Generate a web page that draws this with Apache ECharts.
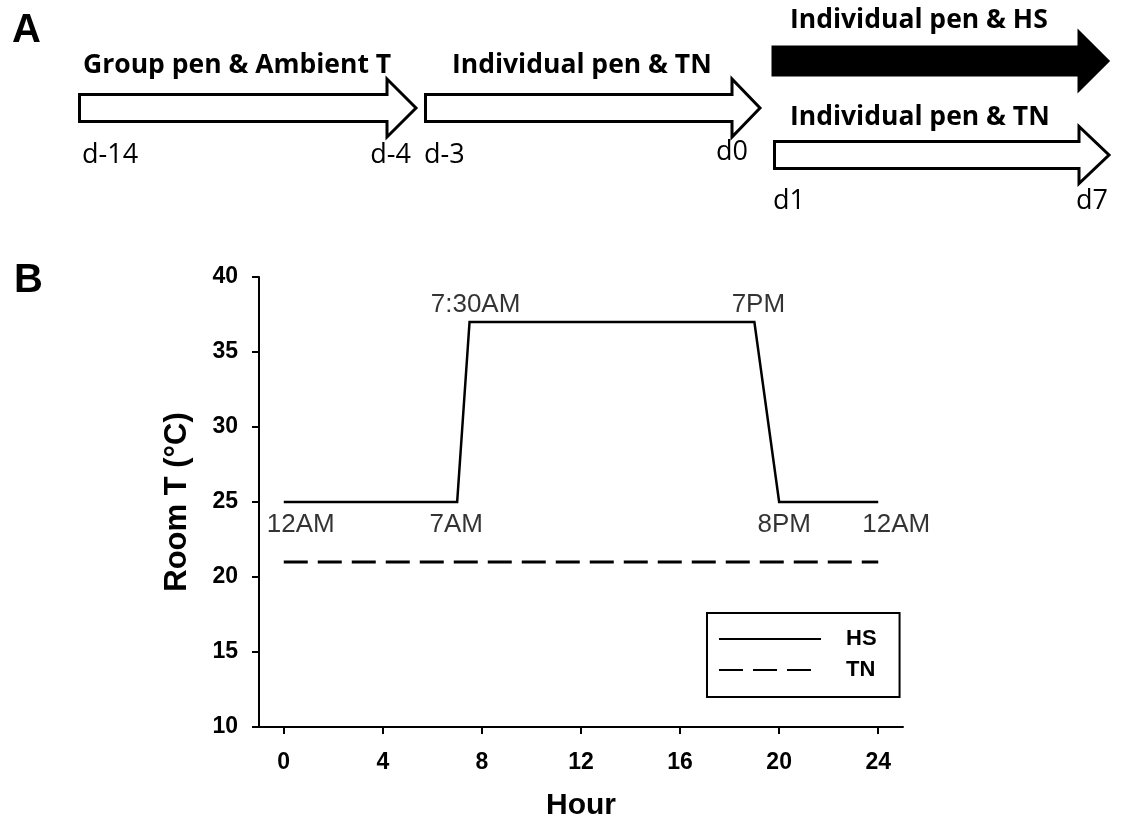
<!DOCTYPE html>
<html>
<head>
<meta charset="utf-8">
<script src="https://cdn.jsdelivr.net/npm/echarts@6/dist/echarts.min.js"></script>
<style>
html,body{margin:0;padding:0;background:#fff;}
#chart{width:1122px;height:829px;}
</style>
</head>
<body>
<div id="chart"></div>
<script>
// ---- Data ----
const hsHours = [0, 7, 7.5, 19, 20, 24];
const hsTemps = [25, 25, 37, 37, 25, 25];
const hsTimeLabels = ['12AM', '7AM', '7:30AM', '7PM', '8PM', '12AM'];
const tnHours = [0, 24];
const tnTemps = [21, 21];
const xTicks = [0, 4, 8, 12, 16, 20, 24];
const yTicks = [10, 15, 20, 25, 30, 35, 40];
const seriesNames = ['HS', 'TN'];
const stageLabels = ['Group pen & Ambient T', 'Individual pen & TN', 'Individual pen & HS', 'Individual pen & TN'];
const dayLabels = ['d-14', 'd-4', 'd-3', 'd0', 'd1', 'd7'];
const panelLabels = ['A', 'B'];
const xName = 'Hour';
const yName = 'Room T (°C)';

// ---- Styling / layout (not data) ----
const ARIAL = 'Arial, "Liberation Sans", sans-serif';
const CAL = '"Open Sans", Lato, sans-serif';
const labelPos = ['bottom', 'bottom', 'top', 'top', 'bottom', 'bottom'];
const labelOff = [[17, 0], [-1, 0], [6, 0], [4, 0], [5, 0], [18, 0]];
const tickRich = {t: {fontFamily: ARIAL, fontWeight: 'bold', fontSize: 23, color: '#000'}};

function arrowPoints(x0, base, tip, yc, bh, hh) {
  return [[x0, yc - bh], [base, yc - bh], [base, yc - hh], [tip, yc], [base, yc + hh], [base, yc + bh], [x0, yc + bh]];
}
const arrowGeom = [
  {x0: 79.5, base: 387, tip: 416, yc: 108, bh: 13.5, hh: 29, fill: '#fff'},
  {x0: 425.5, base: 732, tip: 760, yc: 108, bh: 13.5, hh: 29, fill: '#fff'},
  {x0: 773, base: 1079, tip: 1108, yc: 61, bh: 14, hh: 29, fill: '#000'},
  {x0: 774.5, base: 1079, tip: 1109, yc: 155, bh: 13.5, hh: 28.5, fill: '#fff'}
];
const stagePos = [[83, 73], [452, 73], [790, 28], [790, 125]];
const dayPos = [[82, 163, 'left'], [411, 163, 'right'], [424, 163, 'left'], [748, 160, 'right'], [773, 209, 'left'], [1108, 209, 'right']];
const panelPos = [[12, 11], [14, 261]];

const graphics = [];
arrowGeom.forEach(a => {
  graphics.push({
    type: 'polygon',
    shape: {points: arrowPoints(a.x0, a.base, a.tip, a.yc, a.bh, a.hh)},
    style: {fill: a.fill, stroke: '#000', lineWidth: 3, lineJoin: 'miter'}
  });
});
stageLabels.forEach((t, i) => {
  graphics.push({
    type: 'text', x: stagePos[i][0], y: stagePos[i][1] + 6,
    style: {text: t, font: 'bold 26.5px ' + CAL, fill: '#000', textVerticalAlign: 'bottom', verticalAlign: 'bottom'}
  });
});
dayLabels.forEach((t, i) => {
  graphics.push({
    type: 'text', x: dayPos[i][0], y: dayPos[i][1] + 6,
    style: {text: t, font: '27px ' + CAL, fill: '#000', align: dayPos[i][2], textAlign: dayPos[i][2], verticalAlign: 'bottom', textVerticalAlign: 'bottom'}
  });
});
panelLabels.forEach((t, i) => {
  graphics.push({
    type: 'text', x: panelPos[i][0], y: panelPos[i][1],
    style: {text: t, font: 'bold 40px ' + ARIAL, fill: '#000', verticalAlign: 'top', textVerticalAlign: 'top'}
  });
});

const hsData = hsHours.map((h, i) => [h, hsTemps[i]]);
const tnData = tnHours.map((h, i) => [h, tnTemps[i]]);
const annData = hsHours.map((h, i) => ({
  value: [h, hsTemps[i]],
  label: {show: true, formatter: hsTimeLabels[i], position: labelPos[i], offset: labelOff[i], distance: labelPos[i] === 'top' ? 4 : 10}
}));

const chart = echarts.init(document.getElementById('chart'), null, {renderer: 'canvas'});
chart.setOption({
  animation: false,
  backgroundColor: '#fff',
  graphic: graphics,
  grid: {left: 259, right: 219, top: 277, bottom: 102, containLabel: false},
  xAxis: {
    type: 'value', min: -1, max: 25,
    name: xName, nameLocation: 'middle', nameGap: 64,
    nameTextStyle: {fontFamily: ARIAL, fontWeight: 'bold', fontSize: 30, color: '#000'},
    axisLine: {show: true, onZero: false, lineStyle: {color: '#000', width: 2}},
    axisTick: {show: true, inside: false, length: 7, lineStyle: {color: '#000', width: 2}, customValues: xTicks},
    axisLabel: {customValues: xTicks, margin: 24, formatter: v => '{t|' + v + '}', rich: tickRich},
    splitLine: {show: false}
  },
  yAxis: {
    type: 'value', min: 10, max: 40, interval: 5,
    name: yName, nameLocation: 'middle', nameGap: 66, nameRotate: 90,
    nameTextStyle: {fontFamily: ARIAL, fontWeight: 'bold', fontSize: 31, color: '#000'},
    axisLine: {show: true, onZero: false, lineStyle: {color: '#000', width: 2}},
    axisTick: {show: true, inside: false, length: 7, lineStyle: {color: '#000', width: 2}, customValues: yTicks},
    axisLabel: {customValues: yTicks, margin: 21, formatter: v => '{t|' + v + '}', rich: tickRich},
    splitLine: {show: false}
  },
  legend: {
    show: true, orient: 'vertical', left: 707, top: 613,
    data: seriesNames,
    selectedMode: false,
    itemWidth: 102, itemHeight: 22, itemGap: 9,
    padding: [15, 23, 16, 11],
    borderColor: '#000', borderWidth: 2, borderRadius: 0,
    backgroundColor: '#fff',
    itemStyle: {opacity: 0},
    textStyle: {fontFamily: ARIAL, fontWeight: 'bold', fontSize: 22, color: '#000', padding: [0, 0, 0, 20]}
  },
  series: [
    {
      name: seriesNames[0], type: 'line', data: hsData, symbol: 'none', showSymbol: false,
      lineStyle: {color: '#000', width: 2.5, type: 'solid', join: 'miter'},
      itemStyle: {color: 'rgba(0,0,0,0)'}, z: 3
    },
    {
      name: seriesNames[1], type: 'line', data: tnData, symbol: 'none', showSymbol: false,
      lineStyle: {color: '#000', width: 3, type: [24, 10]},
      itemStyle: {color: 'rgba(0,0,0,0)'}, z: 3
    },
    {
      name: 'labels', type: 'scatter', data: annData, symbolSize: 0, silent: true,
      itemStyle: {color: 'transparent'},
      label: {fontFamily: ARIAL, fontSize: 26, color: '#000'}, z: 4
    }
  ]
});
</script>
</body>
</html>
